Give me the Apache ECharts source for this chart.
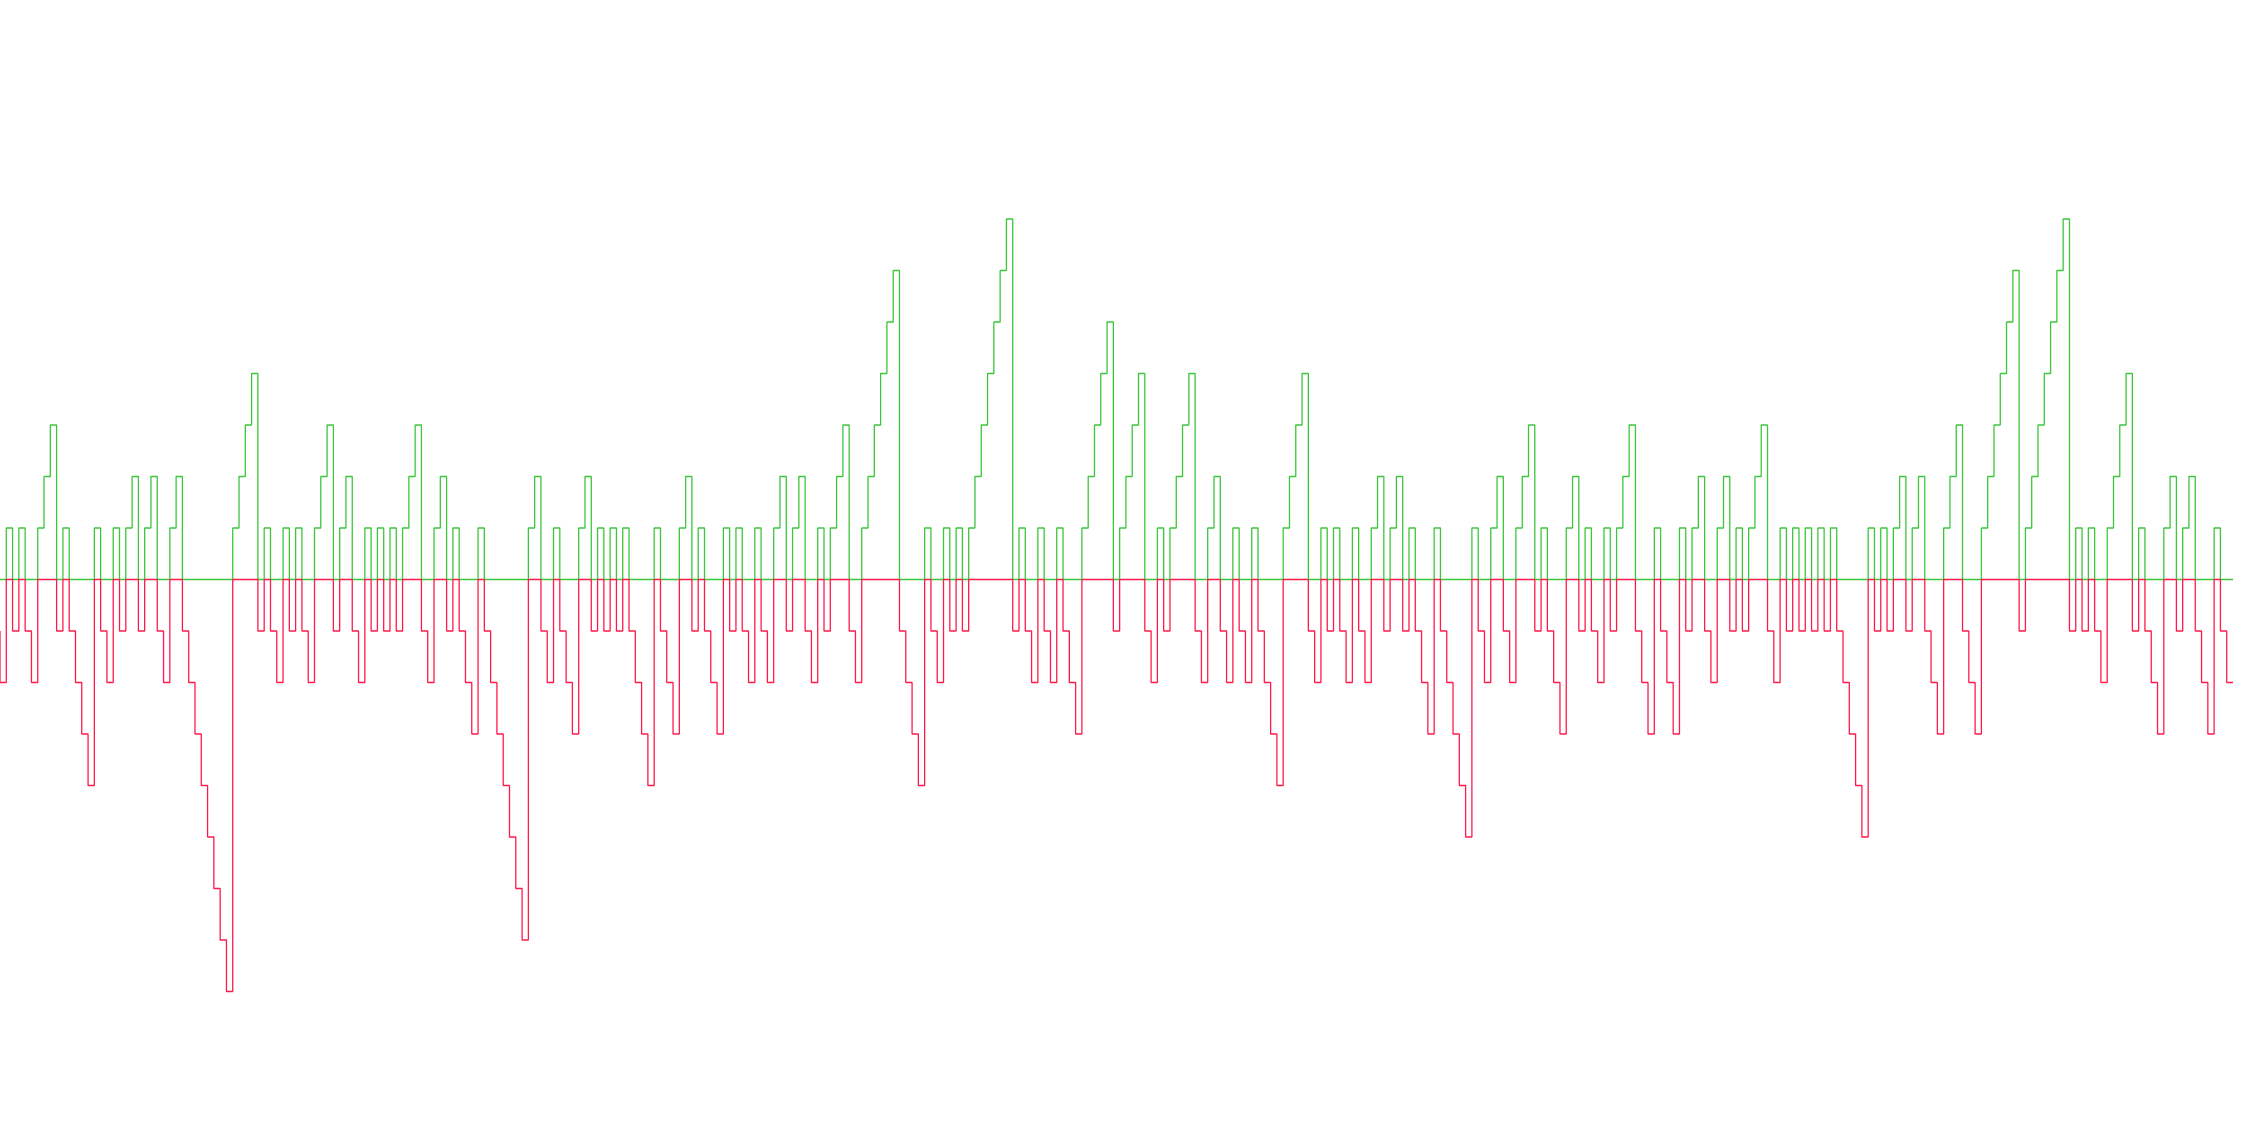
<!DOCTYPE html>
<html>
<head>
<meta charset="utf-8">
<script src="https://cdn.jsdelivr.net/npm/echarts@6/dist/echarts.min.js"></script>
<style>
html, body { margin: 0; padding: 0; background: #ffffff; }
#chart { width: 2258px; height: 1148px; }
</style>
</head>
<body>
<div id="chart"></div>
<script>
// Signed run-length streak value at each step (positive = up streak, negative = down streak)
const streak = [
  -1,
  -2, 1, -1, 1, -1, -2, 1, 2, 3, -1,
  1, -1, -2, -3, -4, 1, -1, -2, 1, -1,
  1, 2, -1, 1, 2, -1, -2, 1, 2, -1,
  -2, -3, -4, -5, -6, -7, -8, 1, 2, 3,
  4, -1, 1, -1, -2, 1, -1, 1, -1, -2,
  1, 2, 3, -1, 1, 2, -1, -2, 1, -1,
  1, -1, 1, -1, 1, 2, 3, -1, -2, 1,
  2, -1, 1, -1, -2, -3, 1, -1, -2, -3,
  -4, -5, -6, -7, 1, 2, -1, -2, 1, -1,
  -2, -3, 1, 2, -1, 1, -1, 1, -1, 1,
  -1, -2, -3, -4, 1, -1, -2, -3, 1, 2,
  -1, 1, -1, -2, -3, 1, -1, 1, -1, -2,
  1, -1, -2, 1, 2, -1, 1, 2, -1, -2,
  1, -1, 1, 2, 3, -1, -2, 1, 2, 3,
  4, 5, 6, -1, -2, -3, -4, 1, -1, -2,
  1, -1, 1, -1, 1, 2, 3, 4, 5, 6,
  7, -1, 1, -1, -2, 1, -1, -2, 1, -1,
  -2, -3, 1, 2, 3, 4, 5, -1, 1, 2,
  3, 4, -1, -2, 1, -1, 1, 2, 3, 4,
  -1, -2, 1, 2, -1, -2, 1, -1, -2, 1,
  -1, -2, -3, -4, 1, 2, 3, 4, -1, -2,
  1, -1, 1, -1, -2, 1, -1, -2, 1, 2,
  -1, 1, 2, -1, 1, -1, -2, -3, 1, -1,
  -2, -3, -4, -5, 1, -1, -2, 1, 2, -1,
  -2, 1, 2, 3, -1, 1, -1, -2, -3, 1,
  2, -1, 1, -1, -2, 1, -1, 1, 2, 3,
  -1, -2, -3, 1, -1, -2, -3, 1, -1, 1,
  2, -1, -2, 1, 2, -1, 1, -1, 1, 2,
  3, -1, -2, 1, -1, 1, -1, 1, -1, 1,
  -1, 1, -1, -2, -3, -4, -5, 1, -1, 1,
  -1, 1, 2, -1, 1, 2, -1, -2, -3, 1,
  2, 3, -1, -2, -3, 1, 2, 3, 4, 5,
  6, -1, 1, 2, 3, 4, 5, 6, 7, -1,
  1, -1, 1, -1, -2, 1, 2, 3, 4, -1,
  1, -1, -2, -3, 1, 2, -1, 1, 2, -1,
  -2, -3, 1, -1, -2
];
const categories = streak.map((_, i) => String(i));
const upColor = '#3cc63c';
const downColor = '#ff1a4b';

const upValues = streak.map(v => (v > 0 ? v : 0));
const downValues = streak.map(v => (v < 0 ? v : 0));

const chart = echarts.init(document.getElementById('chart'), null, { renderer: 'canvas' });
chart.setOption({
  animation: false,
  backgroundColor: '#ffffff',
  grid: { left: 0, right: 25, top: 116, height: 927 },
  xAxis: {
    type: 'category',
    data: categories,
    boundaryGap: false,
    show: false
  },
  yAxis: {
    type: 'value',
    min: -9,
    max: 9,
    show: false,
    splitLine: { show: false }
  },
  series: [
    {
      name: 'Up streak',
      type: 'line',
      step: 'start',
      data: upValues,
      symbol: 'none',
      lineStyle: { color: upColor, width: 1.3 },
      itemStyle: { color: upColor },
      z: 2
    },
    {
      name: 'Down streak',
      type: 'line',
      step: 'start',
      data: downValues,
      symbol: 'none',
      lineStyle: { color: downColor, width: 1.3 },
      itemStyle: { color: downColor },
      z: 3
    }
  ]
});
</script>
</body>
</html>
